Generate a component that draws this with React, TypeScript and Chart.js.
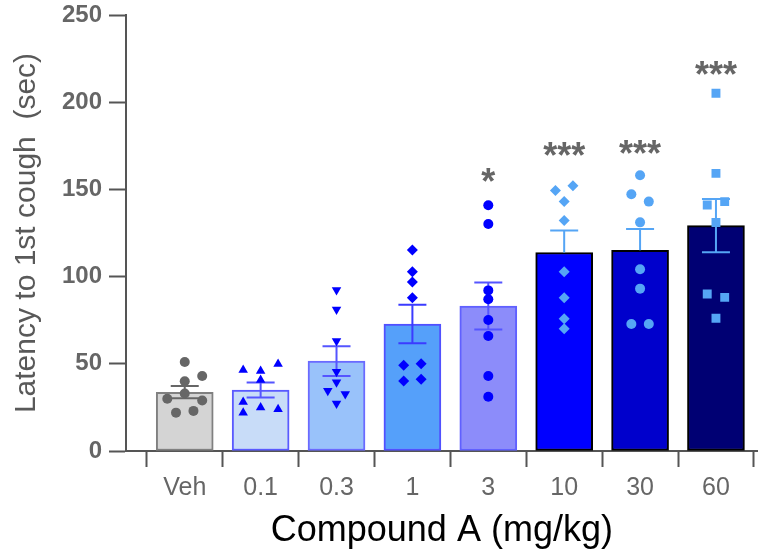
import React, { useEffect, useRef } from "react";
import { Chart, registerables } from "chart.js";
Chart.register(...registerables);

// ---- data ----
const categories = ["Veh", "0.1", "0.3", "1", "3", "10", "30", "60"];
const means = [33.7, 35.0, 51.5, 72.8, 83.1, 113.8, 115.1, 129.2];
const sems = [3.5, 4.3, 8.5, 11.0, 13.5, 12.6, 12.2, 15.3];
const semLowerVisible = [true, true, true, true, true, false, false, true];

const pointsVeh = [51, 43, 40, 33, 30, 29, 22, 23];
const points01 = [46.4, 45.9, 49.9, 40.7, 28.1, 22.0, 25.0, 23.9];
const points03 = [92.3, 81.2, 63.1, 45.5, 39.4, 34.6, 32.7, 27.3];
const points1 = [115.3, 102.8, 96.9, 87.9, 49.1, 50.1, 40.1, 41.1];
const points3 = [140.9, 130.2, 92.1, 87.0, 75.1, 65.9, 43.0, 31.1];
const points10 = [149.3, 152.1, 143.0, 132.1, 102.8, 87.9, 75.9, 70.1];
const points30 = [158.1, 147.2, 143.0, 131.1, 104.2, 93.1, 72.8, 72.8];
const points60 = [205.1, 159.2, 141.1, 143.0, 131.0, 90.0, 88.1, 76.1];

// horizontal jitter slot of each point
const jitterVeh = [0, 2, 0, 0, -2, 2, -1, 1];
const jitter01 = [-2, 0, 2, 0, -2, -2, 0, 2];
const jitter03 = [0, 0, 0, 0, 0, -1, 1, 0];
const jitter1 = [0, 0, 0, 0, -1, 1, -1, 1];
const jitter3 = [0, 0, 0, 0, 0, 0, 0, 0];
const jitter10 = [-1, 1, 0, 0, 0, 0, 0, 0];
const jitter30 = [0, -1, 1, 0, 0, 0, -1, 1];
const jitter60 = [0, 0, -1, 1, 0, -1, 1, 0];

const sigLabels = ["", "", "", "", "*", "***", "***", "***"];
const sigLevels = [0, 0, 0, 0, 158, 173, 174.5, 219.4];

const yTicks = [0, 50, 100, 150, 200, 250];

// ---- styles ----
const groupPoints = [pointsVeh, points01, points03, points1, points3, points10, points30, points60];
const groupJitter = [jitterVeh, jitter01, jitter03, jitter1, jitter3, jitter10, jitter30, jitter60];
const barFill = ["#d4d4d4", "#c8dcf8", "#99c2fa", "#55a0fa", "#8c8cfa", "#0000ff", "#0000cc", "#000073"];
const barBorder = ["#808080", "#5a5aff", "#6a6aff", "#5050ff", "#6060ff", "#000000", "#000000", "#000000"];
const errColor = ["#666666", "#5555ff", "#5555ff", "#3b3bff", "#5555ff", "#55a5f5", "#55a5f5", "#55a5f5"];
const pointColor = ["#666666", "#0000ff", "#0000ff", "#0000ff", "#0000ff", "#55a5f5", "#55a5f5", "#55a5f5"];
const pointStyle = ["circle", "triangle", "triangle", "rectRot", "circle", "rectRot", "circle", "rect"];
const pointRot = [0, 0, 180, 0, 0, 0, 0, 0];
const pointRadius = [5, 5.5, 5.5, 5.5, 5, 5.5, 5, 6.3];
const JITTER_STEP = 0.115;
const FONT = "'Liberation Sans', Arial, sans-serif";

const errorBarPlugin = {
  id: "errbars",
  afterDatasetDraw(chart: any, args: any) {
    if (args.index !== 0) return;
    const { ctx } = chart;
    const x = chart.scales.x;
    const y = chart.scales.y;
    ctx.save();
    ctx.lineWidth = 2;
    means.forEach((m, i) => {
      const cx = x.getPixelForValue(i);
      const top = y.getPixelForValue(m + sems[i]);
      const bottom = y.getPixelForValue(semLowerVisible[i] ? m - sems[i] : m);
      ctx.strokeStyle = errColor[i];
      ctx.beginPath();
      ctx.moveTo(cx, top);
      ctx.lineTo(cx, bottom);
      ctx.moveTo(cx - 14, top);
      ctx.lineTo(cx + 14, top);
      if (semLowerVisible[i]) {
        ctx.moveTo(cx - 14, bottom);
        ctx.lineTo(cx + 14, bottom);
      }
      ctx.stroke();
    });
    ctx.restore();
  },
};

const starPlugin = {
  id: "stars",
  afterDraw(chart: any) {
    const { ctx } = chart;
    const x = chart.scales.x;
    const y = chart.scales.y;
    ctx.save();
    ctx.fillStyle = "#666666";
    ctx.font = `bold 36px ${FONT}`;
    ctx.textAlign = "center";
    ctx.textBaseline = "alphabetic";
    sigLabels.forEach((s, i) => {
      if (!s) return;
      const m = ctx.measureText(s);
      const off = (m.actualBoundingBoxAscent - m.actualBoundingBoxDescent) / 2;
      ctx.fillText(s, x.getPixelForValue(i), y.getPixelForValue(sigLevels[i]) + off);
    });
    ctx.restore();
  },
};

export default function App() {
  const ref = useRef<HTMLCanvasElement | null>(null);
  useEffect(() => {
    document.body.style.margin = "0";
    if (!ref.current) return;
    const scatterSets = groupPoints.map((pts, g) => ({
      type: "scatter" as const,
      order: 0,
      data: pts.map((v, k) => ({ x: g + groupJitter[g][k] * JITTER_STEP, y: v })),
      pointStyle: pointStyle[g],
      rotation: pointRot[g],
      pointRadius: pointRadius[g],
      pointBackgroundColor: pointColor[g],
      pointBorderColor: pointColor[g],
      pointBorderWidth: 0,
      showLine: false,
    }));
    const chart = new Chart(ref.current, {
      type: "bar",
      data: {
        datasets: [
          {
            type: "bar",
            order: 1,
            data: means.map((m, i) => ({ x: i, y: m })),
            backgroundColor: barFill,
            borderColor: barBorder,
            borderWidth: 2,
            borderSkipped: false,
            barThickness: 57,
          } as any,
          ...(scatterSets as any),
        ],
      },
      options: {
        responsive: false,
        animation: false,
        layout: { padding: { top: 15, right: 4, left: 0, bottom: 0 } },
        plugins: { legend: { display: false }, tooltip: { enabled: false } },
        scales: {
          x: {
            type: "linear",
            min: -0.774,
            max: 7.55,
            offset: false,
            afterBuildTicks: (scale: any) => {
              scale.ticks = categories.map((_, i) => ({ value: i }));
            },
            afterFit: (scale: any) => {
              scale.height = 104;
              scale.paddingLeft = 0;
              scale.paddingRight = 0;
            },
            ticks: {
              autoSkip: false,
              maxRotation: 0,
              color: "#666666",
              font: { family: FONT, size: 25 },
              padding: 6,
              callback: (v: any) => categories[Math.round(Number(v))] ?? "",
            },
            grid: { drawOnChartArea: false, tickLength: 16, tickWidth: 2, tickColor: "#555555" },
            border: { color: "#555555", width: 2 },
            title: {
              display: true,
              text: "Compound A (mg/kg)",
              color: "#000000",
              font: { family: FONT, size: 36 },
              padding: { top: 0, bottom: 2 },
            },
          },
          y: {
            min: 0,
            max: 250,
            afterBuildTicks: (scale: any) => {
              scale.ticks = yTicks.map((v) => ({ value: v }));
            },
            afterFit: (scale: any) => {
              scale.width = 126;
              scale.paddingTop = 0;
              scale.paddingBottom = 0;
            },
            ticks: {
              color: "#666666",
              font: { family: FONT, size: 24, weight: "bold" },
              padding: 7,
            },
            grid: { drawOnChartArea: false, tickLength: 17, tickWidth: 2, tickColor: "#555555" },
            border: { color: "#555555", width: 2 },
            title: {
              display: true,
              text: "Latency to 1st cough  (sec)",
              color: "#595959",
              font: { family: FONT, size: 30 },
              padding: { top: 9, bottom: 0 },
            },
          },
        },
      } as any,
      plugins: [errorBarPlugin, starPlugin],
    });
    return () => chart.destroy();
  }, []);
  return (
    <div style={{ width: 764, height: 555 }}>
      <canvas ref={ref} width={764} height={555} />
    </div>
  );
}
